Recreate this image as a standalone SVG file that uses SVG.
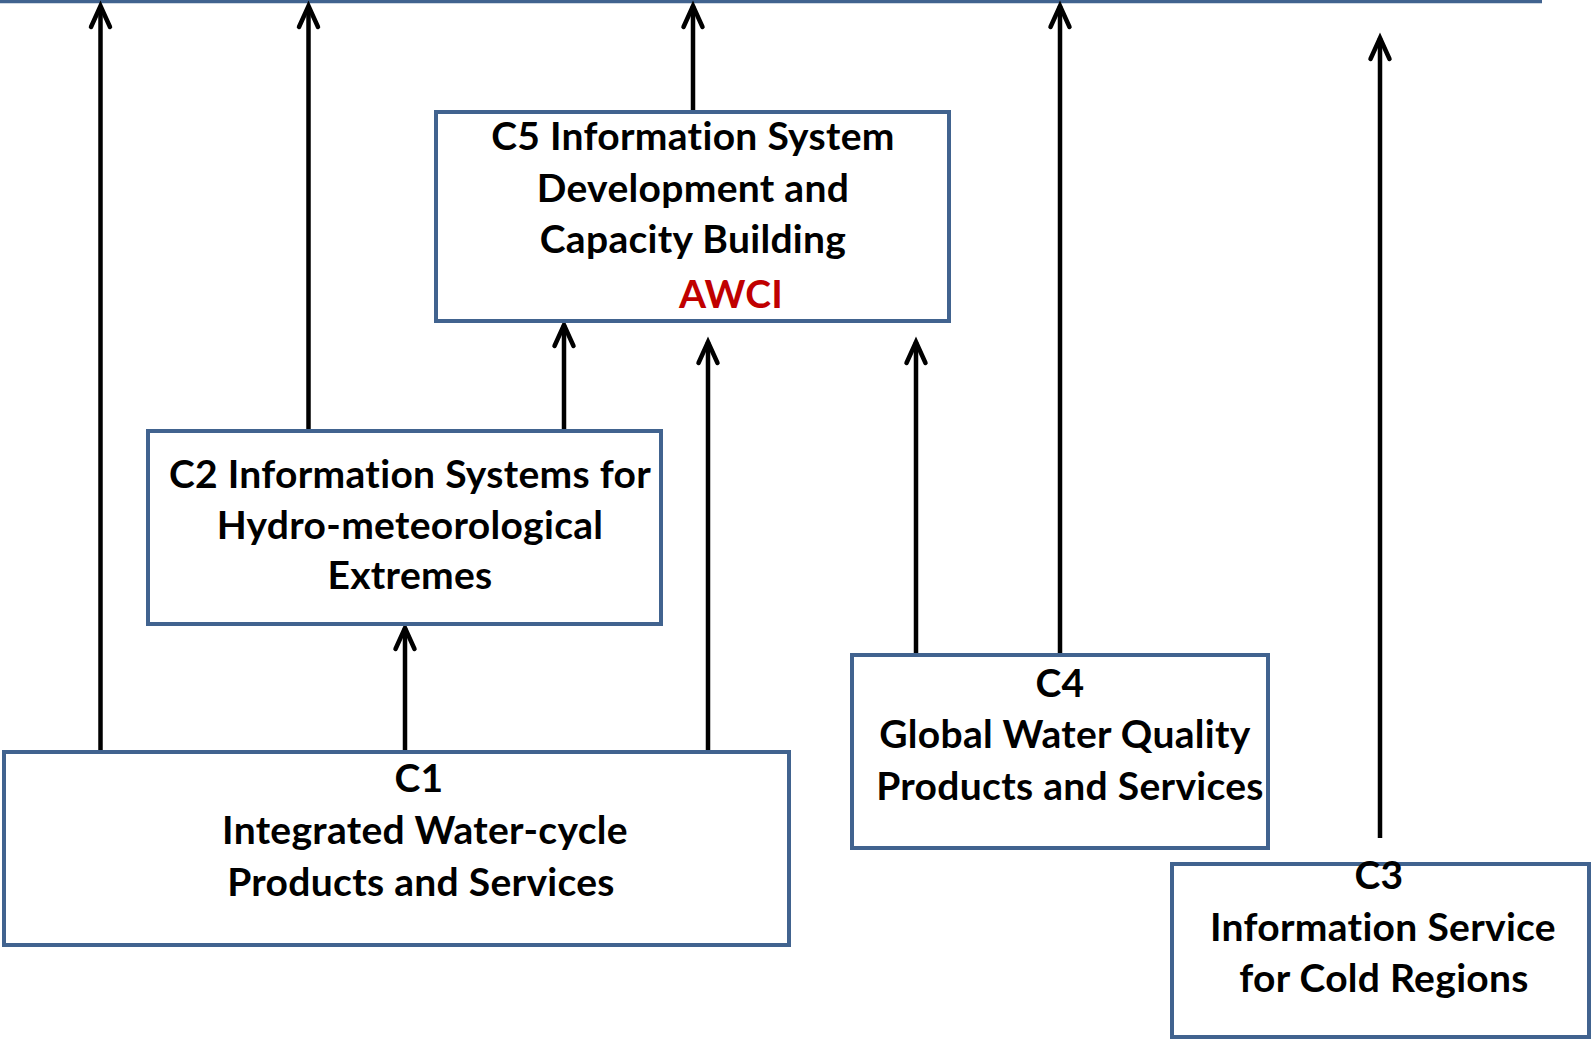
<svg xmlns="http://www.w3.org/2000/svg" width="1591" height="1040" viewBox="0 0 1591 1040">
<defs>
<style>
.box{fill:#fff;stroke:#41638F;stroke-width:4}
.t{font-family:Lato,"Liberation Sans",sans-serif;font-weight:bold;font-size:39px;letter-spacing:0.3px;fill:#000;text-anchor:middle}
.red{fill:#C00000}
.c{stroke:#000;stroke-width:4.5;fill:none}
</style>
<marker id="ah" markerUnits="userSpaceOnUse" viewBox="-24 -12 28 24" refX="0" refY="0" markerWidth="28" markerHeight="24" orient="auto" overflow="visible">
<path d="M-21,-9.5 L0,0 L-21,9.5" fill="none" stroke="#000" stroke-width="4.5" stroke-linecap="round" stroke-linejoin="miter"/>
</marker>
</defs>
<rect width="1591" height="1040" fill="#fff"/>
<line x1="0" y1="1.5" x2="1542" y2="1.5" stroke="#41638F" stroke-width="3.5"/>
<g id="connectors">
<line class="c" x1="100.5" y1="751" x2="100.5" y2="6" marker-end="url(#ah)"/>
<line class="c" x1="308.5" y1="431" x2="308.5" y2="6" marker-end="url(#ah)"/>
<line class="c" x1="693" y1="111" x2="693" y2="6" marker-end="url(#ah)"/>
<line class="c" x1="1060" y1="655" x2="1060" y2="6" marker-end="url(#ah)"/>
<line class="c" x1="1380" y1="838" x2="1380" y2="38" marker-end="url(#ah)"/>
<line class="c" x1="564" y1="431" x2="564" y2="325" marker-end="url(#ah)"/>
<line class="c" x1="708" y1="751" x2="708" y2="342" marker-end="url(#ah)"/>
<line class="c" x1="916" y1="655" x2="916" y2="342" marker-end="url(#ah)"/>
<line class="c" x1="405" y1="751" x2="405" y2="628" marker-end="url(#ah)"/>
</g>
<g id="C5">
<rect class="box" x="436" y="112" width="513" height="209"/>
<text class="t" x="693" y="150">C5 Information System</text>
<text class="t" x="693" y="202">Development and</text>
<text class="t" x="693" y="253">Capacity Building</text>
<text class="t red" x="731" y="308">AWCI</text>
</g>
<g id="C2">
<rect class="box" x="148" y="431" width="513" height="193"/>
<text class="t" x="410" y="488">C2 Information Systems for</text>
<text class="t" x="410" y="539">Hydro-meteorological</text>
<text class="t" x="410" y="589">Extremes</text>
</g>
<g id="C1">
<rect class="box" x="4" y="752" width="785" height="193"/>
<text class="t" x="419" y="792">C1</text>
<text class="t" x="425" y="844">Integrated Water-cycle</text>
<text class="t" x="421" y="896">Products and Services</text>
</g>
<g id="C4">
<rect class="box" x="852" y="655" width="416" height="193"/>
<text class="t" x="1060" y="697">C4</text>
<text class="t" x="1065" y="748">Global Water Quality</text>
<text class="t" x="1070" y="800">Products and Services</text>
</g>
<g id="C3">
<rect class="box" x="1172" y="864" width="417" height="173"/>
<text class="t" x="1379" y="889">C3</text>
<text class="t" x="1383" y="941">Information Service</text>
<text class="t" x="1384" y="992">for Cold Regions</text>
</g>
</svg>
